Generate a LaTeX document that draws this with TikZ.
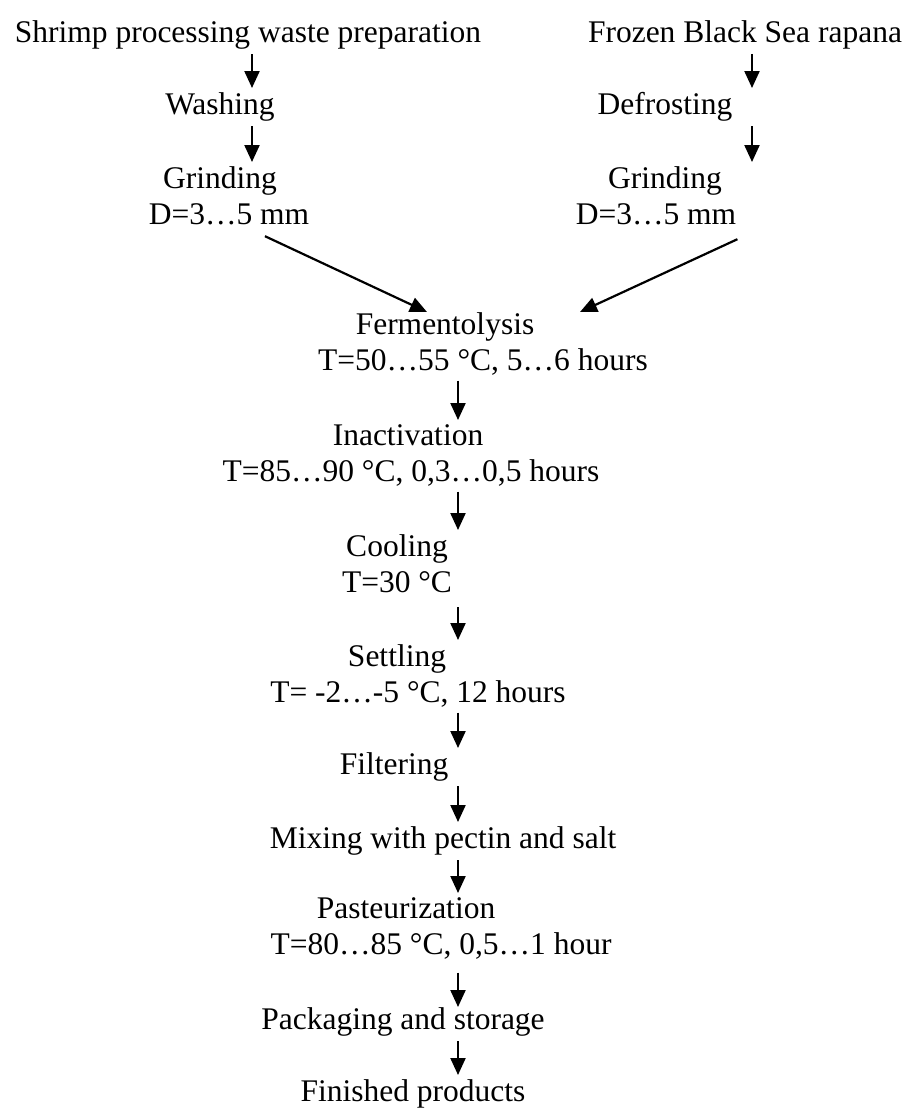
\documentclass[tikz,border=0pt]{standalone}
\usepackage{fontspec}
\setmainfont{Liberation Serif}
\usetikzlibrary{positioning,arrows.meta}
\tikzset{
    stage/.style = {
        inner sep=0pt,
        align=center,
        anchor=north,
        font=\fontsize{31.5}{36.5}\selectfont
    },
    flow/.style = {
        ->,
        line width=2.2pt,
        shorten <=5pt,
        shorten >=4pt
    },
    >={Triangle[length=17pt,width=15pt]},
}

\begin{document}
\begin{tikzpicture}[x=1pt, y=-1pt]
        \useasboundingbox (0,0) rectangle (909,1111);

        % columns of the arrows
        \coordinate (lcol) at (252,0);
        \coordinate (rcol) at (752,0);
        \coordinate (ccol) at (458,0);

        % left branch
        \node[stage] (shrimp) at (248,20) {Shrimp processing waste preparation};
        \node[stage] (wash) at (220,92) {Washing};
        \node[stage] (grindl) at (229,166) {Grinding\hspace*{18pt}\\D=3\ldots5 mm};

        % right branch
        \node[stage] (frozen) at (745,20) {Frozen Black Sea rapana};
        \node[stage] (defrost) at (665,92) {Defrosting};
        \node[stage] (grindr) at (656,166) {\hspace*{18pt}Grinding\\D=3\ldots5 mm};

        % main line
        \node[stage] (ferment) at (483,312) {Fermentolysis\hspace*{76pt}\\T=50\ldots55 °C, 5\ldots6 hours};
        \node[stage] (inact) at (411,424) {Inactivation\hspace*{6pt}\\T=85\ldots90 °C, 0,3\ldots0,5 hours};
        \node[stage] (cool) at (397,534) {Cooling\\T=30 °C};
        \node[stage] (settle) at (418,644) {Settling\hspace*{42pt}\\T= -2\ldots-5 °C, 12 hours};
        \node[stage] (filter) at (394,752) {Filtering};
        \node[stage] (mix) at (443,826) {Mixing with pectin and salt};
        \node[stage] (past) at (441,897) {Pasteurization\hspace*{70pt}\\T=80\ldots85 °C, 0,5\ldots1 hour};
        \node[stage] (pack) at (403,1007) {Packaging and storage};
        \node[stage] (finish) at (413,1079) {Finished products};

        \path[draw, flow] (shrimp.south -| lcol) -- (wash.north -| lcol);
        \path[draw, flow] (wash.south -| lcol) -- (grindl.north -| lcol);
        \path[draw, flow] (frozen.south -| rcol) -- (defrost.north -| rcol);
        \path[draw, flow] (defrost.south -| rcol) -- (grindr.north -| rcol);

        \path[draw, flow, shorten <=0pt, shorten >=0pt] ([shift={(36,11)}]grindl.south) -- ([xshift=-56pt]ferment.north);
        \path[draw, flow, shorten <=0pt, shorten >=0pt] ([shift={(1,14)}]grindr.south east) -- ([xshift=97pt]ferment.north);

        \path[draw, flow] (ferment.south -| ccol) -- (inact.north -| ccol);
        \path[draw, flow] (inact.south -| ccol) -- (cool.north -| ccol);
        \path[draw, flow, shorten <=14pt] (cool.south -| ccol) -- (settle.north -| ccol);
        \path[draw, flow] (settle.south -| ccol) -- (filter.north -| ccol);
        \path[draw, flow] (filter.south -| ccol) -- (mix.north -| ccol);
        \path[draw, flow] (mix.south -| ccol) -- (past.north -| ccol);
        \path[draw, flow, shorten <=13pt, shorten >=0pt] (past.south -| ccol) -- (pack.north -| ccol);
        \path[draw, flow] (pack.south -| ccol) -- (finish.north -| ccol);
    \end{tikzpicture}
\end{document}
